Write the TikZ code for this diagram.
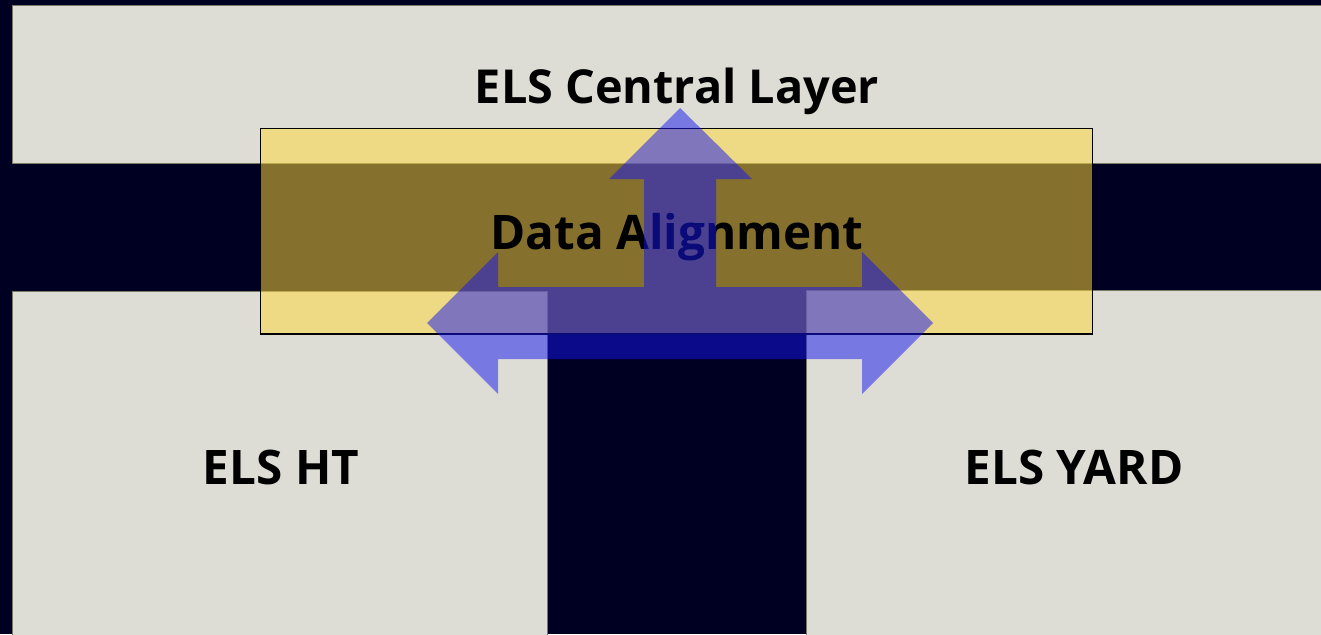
\documentclass[tikz,border=0pt]{standalone}
\usepackage{fontspec}
\setmainfont{Open Sans}
\definecolor{navybg}{RGB}{0,0,34}
\definecolor{panelgray}{RGB}{221,221,213}
\definecolor{paneledge}{RGB}{120,120,100}
\definecolor{bandyellow}{RGB}{255,216,58}
\definecolor{arrowblue}{RGB}{20,20,242}
\tikzset{
  panel/.style={fill=panelgray, draw=paneledge, line width=0.8pt},
  band/.style={fill=bandyellow, fill opacity=0.52, draw=black, line width=1.6pt},
  flow/.style={fill=arrowblue, fill opacity=0.5, draw=none},
  label/.style={font=\fontsize{47.6}{52}\selectfont\bfseries, text=black, inner sep=0pt, anchor=base},
  toplabel/.style={label, font=\fontsize{46.8}{52}\selectfont\bfseries}
}
\begin{document}
\begin{tikzpicture}[x=1pt, y=-1pt]
  \useasboundingbox (0,0) rectangle (1321,634);
  \clip (0,0) rectangle (1321,634);
  \fill[navybg] (0,0) rectangle (1321,634);

  % the three layers
  \draw[panel] (12,5) rectangle (1330,163);
  \draw[panel] (12,291) rectangle (547,645);
  \draw[panel] (806,290) rectangle (1330,645);

  \node[toplabel] (central) at (677,103) {ELS Central Layer};
  \node[label] (ht) at (281,484) {ELS HT};
  \node[label] (yard) at (1074,484) {ELS YARD};

  % alignment band across the layers
  \draw[band] (260.5,128.5) rectangle (1092.5,334);
  \node[label] (align) at (677,249.5) {Data Alignment};

  % three-way flow arrow
  \fill[flow] (680,108) -- (752,179) -- (716,179) -- (716,287) -- (862,287)
    -- (862,252) -- (933,323) -- (862,394) -- (862,359) -- (498,359)
    -- (498,394) -- (427,323) -- (498,252) -- (498,287) -- (644,287)
    -- (644,179) -- (609,179) -- cycle;
\end{tikzpicture}
\end{document}
